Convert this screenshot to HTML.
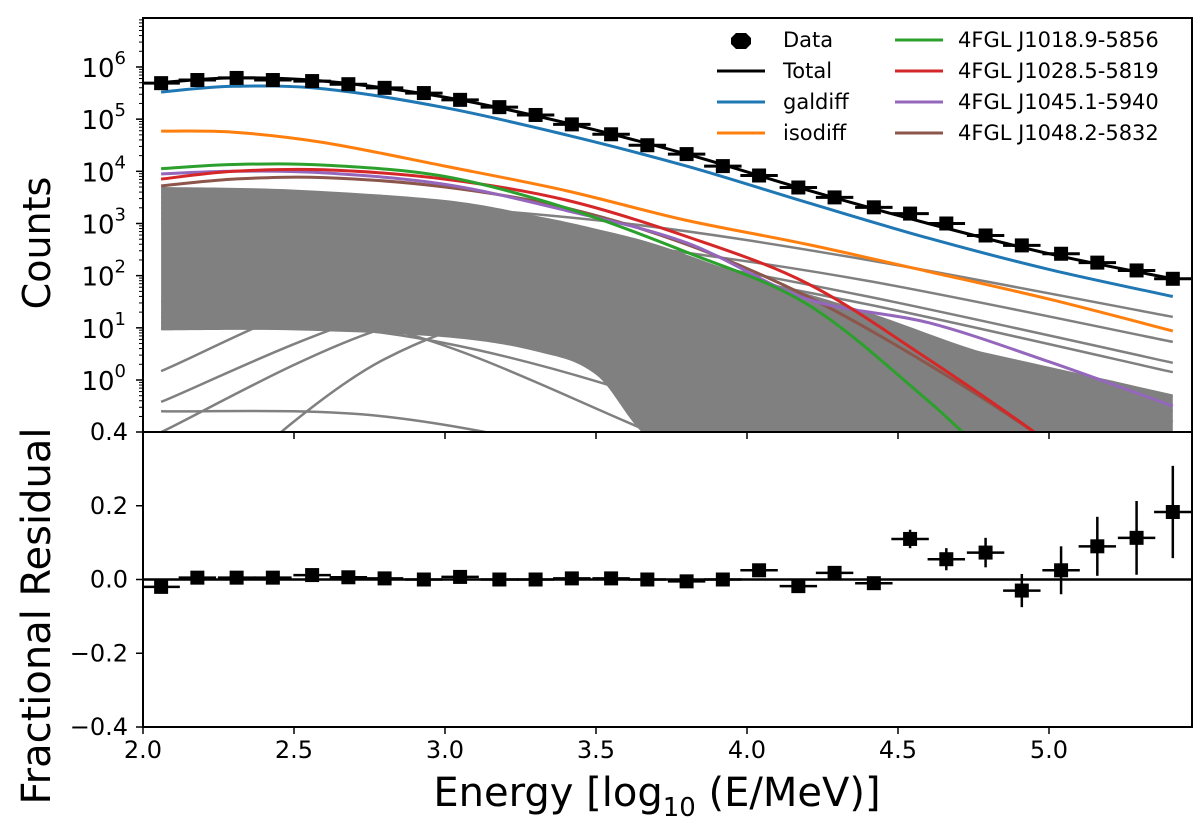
<!DOCTYPE html>
<html><head><meta charset="utf-8"><style>
html,body{margin:0;padding:0;background:#fff;}
svg{display:block;font-family:"DejaVu Sans","Liberation Sans",sans-serif;}
</style></head><body>
<svg id="chart" width="1200" height="832" viewBox="0 0 1200 832" xmlns="http://www.w3.org/2000/svg">
<defs>
<clipPath id="clipTop"><rect x="143" y="18" width="1049" height="414"/></clipPath>
<clipPath id="clipBot"><rect x="143" y="432" width="1049" height="295"/></clipPath>
</defs>
<g id="topPlot" clip-path="url(#clipTop)"></g>
<g id="botPlot" clip-path="url(#clipBot)"></g>
<g id="axes"></g>
<text x="0" y="0" transform="translate(50,243) rotate(-90)" text-anchor="middle" font-size="38">Counts</text>
<text x="0" y="0" transform="translate(50,616) rotate(-90)" text-anchor="middle" font-size="40">Fractional Residual</text>
<text x="657" y="806" text-anchor="middle" font-size="40">Energy [log<tspan font-size="26" dy="10">10</tspan><tspan dy="-10"> (E/MeV)]</tspan></text>
<g id="legend"></g>
</svg>
<script>
const energies=[2.06,2.18,2.31,2.43,2.56,2.68,2.80,2.93,3.05,3.18,3.30,3.42,3.55,3.67,3.80,3.92,4.04,4.17,4.29,4.42,4.54,4.66,4.79,4.91,5.04,5.16,5.29,5.41];
const dataLogCounts=[5.69,5.75,5.79,5.75,5.73,5.67,5.6,5.5,5.37,5.23,5.08,4.9,4.71,4.5,4.33,4.1,3.92,3.69,3.5,3.31,3.19,3.0,2.77,2.58,2.42,2.25,2.1,1.94];
const residuals=[-0.02,0.005,0.005,0.005,0.012,0.006,0.003,0.0,0.007,0.0,0.0,0.003,0.003,0.0,-0.005,0.0,0.025,-0.018,0.018,-0.01,0.11,0.055,0.073,-0.03,0.025,0.09,0.113,0.183];
const residualErrs=[0.005,0.004,0.004,0.004,0.004,0.004,0.004,0.004,0.004,0.004,0.004,0.005,0.005,0.006,0.007,0.008,0.01,0.012,0.014,0.016,0.025,0.03,0.04,0.045,0.065,0.08,0.1,0.125];
const binHalf=0.062;
const curveE=[2.06,2.3,2.6,3.0,3.4,3.8,4.2,4.6,5.0,5.41];
const totalLog=[5.7,5.79,5.73,5.42,4.93,4.33,3.64,3.0,2.42,1.94];
const galdiffLog=[5.52,5.63,5.58,5.22,4.7,4.1,3.4,2.72,2.12,1.6];
const isodiffLog=[4.77,4.75,4.55,4.1,3.63,3.06,2.6,2.08,1.55,0.94];
const j1018Log=[4.05,4.13,4.12,3.9,3.3,2.45,1.45,-0.4,-2.5,-4];
const j1028Log=[3.85,4.0,4.03,3.85,3.45,2.75,1.85,0.4,-1.2,-3];
const j1045Log=[3.95,4.0,3.97,3.75,3.25,2.63,1.55,1.1,0.35,-0.5];
const j1048Log=[3.72,3.85,3.88,3.7,3.3,2.6,1.6,0.3,-1.2,-3];
const bandE=[2.06,2.5,3.0,3.3,3.5,3.7,4.0,4.4,4.8,5.2,5.41];
const bandUpper=[3.7,3.65,3.45,3.15,2.9,2.6,2.0,1.3,0.5,0.0,-0.3];
const bandLower=[0.95,0.95,0.82,0.55,0.1,-1.2,-1.2,-1.2,-1.2,-1.2,-1.2];
const grayE=[2.06,2.8,3.6,4.4,5.41];
const grayLines=[
[3.6,3.4,3.0,2.3,1.21],[3.5,3.2,2.6,1.9,0.73],[3.4,3.05,2.45,1.6,0.33],[3.3,2.95,2.3,1.45,0.15],
[3.2,2.8,2.0,1.0,-0.3],[3.1,2.7,1.9,0.7,-0.6],[3.0,2.6,1.7,0.5,-0.8],
[0.17,1.9,2.0,0.8,-1],[-0.42,1.3,2.0,1.0,-0.8],[-0.6,-0.7,-1.6,-3,-5],[-1.0,1.0,1.8,0.6,-1.5],
[-3,0.4,1.6,0.8,-1.2],[1.0,1.0,0.3,-1.2,-3],[1.0,0.9,-0.2,-2,-4],[1.1,1.2,0.6,-0.8,-3],
[1.3,1.0,-0.8,-3,-6],[1.5,1.5,0.8,-0.5,-2],[1.0,1.05,0.7,-0.2,-1.5],[1.2,1.3,0.2,-1.5,-4]];
const xTicks=[2.0,2.5,3.0,3.5,4.0,4.5,5.0];
const xTickLabels=["2.0","2.5","3.0","3.5","4.0","4.5","5.0"];
const yTopExp=[0,1,2,3,4,5,6];
const yBotTicks=[0.2,0.0,-0.2,-0.4];
const yBotLabels=["0.2","0.0","\u22120.2","\u22120.4"];

const NS="http://www.w3.org/2000/svg";
const X=e=>143+(e-2)*302;
const Yt=l=>380-l*52.17;
const Yb=v=>579.5-v*368.75;
function mk(tag,attrs,parent){const el=document.createElementNS(NS,tag);for(const k in attrs)el.setAttribute(k,attrs[k]);parent.appendChild(el);return el;}
function smooth(pts){let d="M"+pts[0][0].toFixed(1)+","+pts[0][1].toFixed(1);
for(let i=0;i<pts.length-1;i++){const p0=pts[i-1]||pts[i],p1=pts[i],p2=pts[i+1],p3=pts[i+2]||p2;
const c1=[p1[0]+(p2[0]-p0[0])/6,p1[1]+(p2[1]-p0[1])/6],c2=[p2[0]-(p3[0]-p1[0])/6,p2[1]-(p3[1]-p1[1])/6];
d+=" C"+c1[0].toFixed(1)+","+c1[1].toFixed(1)+" "+c2[0].toFixed(1)+","+c2[1].toFixed(1)+" "+p2[0].toFixed(1)+","+p2[1].toFixed(1);}return d;}
const topG=document.getElementById("topPlot"),botG=document.getElementById("botPlot"),axG=document.getElementById("axes"),lgG=document.getElementById("legend");

const up=bandE.map((e,i)=>[X(e),Yt(bandUpper[i])]);
const lo=bandE.map((e,i)=>[X(e),Yt(bandLower[i])]).reverse();
const band=mk("path",{d:smooth(up)+" L"+smooth(lo).slice(1)+" Z",fill:"#808080"},topG);


grayLines.forEach((g,i)=>{const p=mk("path",{d:smooth(grayE.map((e,j)=>[X(e),Yt(g[j])])),fill:"none",stroke:"#808080","stroke-width":2.5},topG);

});
const series=[[j1048Log,"#8c564b","source-j1048-line"],[j1045Log,"#9467bd","source-j1045-line"],[j1028Log,"#d62728","source-j1028-line"],[j1018Log,"#2ca02c","source-j1018-line"],[isodiffLog,"#ff7f0e","isodiff-line"],[galdiffLog,"#1f77b4","galdiff-line"],[totalLog,"#000","total-line"]];
series.forEach(s=>{const p=mk("path",{d:smooth(curveE.map((e,j)=>[X(e),Yt(s[0][j])])),fill:"none",stroke:s[1],"stroke-width":3},topG);

});
energies.forEach((e,i)=>{const g=mk("g",{},topG);


const y=Yt(dataLogCounts[i]);
mk("line",{x1:X(e-binHalf),x2:X(e+binHalf),y1:y,y2:y,stroke:"#000","stroke-width":3},g);
mk("rect",{x:X(e)-7,y:y-7,width:14,height:14,fill:"#000"},g);});
const zl=mk("line",{x1:143,x2:1192,y1:Yb(0),y2:Yb(0),stroke:"#000","stroke-width":2.5},botG);


energies.forEach((e,i)=>{const g=mk("g",{},botG);


const y=Yb(residuals[i]);
mk("line",{x1:X(e-binHalf),x2:X(e+binHalf),y1:y,y2:y,stroke:"#000","stroke-width":2.5},g);
mk("line",{x1:X(e),x2:X(e),y1:Yb(residuals[i]-residualErrs[i]),y2:Yb(residuals[i]+residualErrs[i]),stroke:"#000","stroke-width":2.5},g);
mk("rect",{x:X(e)-7,y:y-7,width:14,height:14,fill:"#000"},g);});
const f1=mk("rect",{x:143,y:18,width:1049,height:414,fill:"none",stroke:"#000","stroke-width":2},axG);


const f2=mk("rect",{x:143,y:432,width:1049,height:295,fill:"none",stroke:"#000","stroke-width":2},axG);


xTicks.forEach((t,i)=>{[432,727].forEach(yy=>mk("line",{x1:X(t),x2:X(t),y1:yy,y2:yy+7,stroke:"#000","stroke-width":1.5},axG));
const tx=mk("text",{x:X(t),y:758,"text-anchor":"middle","font-size":24},axG);tx.textContent=xTickLabels[i];

});
for(let k=-1;k<=6;k++){for(let m=1;m<=9;m++){const l=k+Math.log10(m);const y=Yt(l);if(y<18||y>432)continue;
mk("line",{x1:m==1?136:139,x2:143,y1:y,y2:y,stroke:"#000","stroke-width":m==1?1.5:1},axG);}}
yTopExp.forEach(k=>{const t=mk("text",{x:126,y:Yt(k)+10,"text-anchor":"end","font-size":26},axG);


const base=document.createTextNode("10");t.appendChild(base);
const sup=mk("tspan",{"font-size":18,dy:-13},t);sup.textContent=String(k);});
yBotTicks.forEach((v,i)=>{mk("line",{x1:136,x2:143,y1:Yb(v),y2:Yb(v),stroke:"#000","stroke-width":1.5},axG);
const t=mk("text",{x:128,y:Yb(v)+8,"text-anchor":"end","font-size":24},axG);t.textContent=yBotLabels[i];

});
mk("line",{x1:136,x2:143,y1:432,y2:432,stroke:"#000","stroke-width":1.5},axG);
const t04=mk("text",{x:128,y:440,"text-anchor":"end","font-size":24},axG);t04.textContent="0.4";


const legendNames=["Data","Total","galdiff","isodiff","4FGL J1018.9-5856","4FGL J1028.5-5819","4FGL J1045.1-5940","4FGL J1048.2-5832"];
const legendColors=[null,"#000","#1f77b4","#ff7f0e","#2ca02c","#d62728","#9467bd","#8c564b"];
legendNames.forEach((n,i)=>{const col=i<4?0:1,row=i%4;const lx=col?895:717,tx=col?958:783,y=40+row*31;
const g=mk("g",{},lgG);


if(legendColors[i])mk("line",{x1:lx,x2:lx+48,y1:y,y2:y,stroke:legendColors[i],"stroke-width":3},g);
else mk("polygon",{points:"736,33 746,33 751,38 751,44 746,49 736,49 731,44 731,38",fill:"#000"},g);
const t=mk("text",{x:tx,y:y+7,"font-size":21},g);t.textContent=n;});
</script>
</body></html>
